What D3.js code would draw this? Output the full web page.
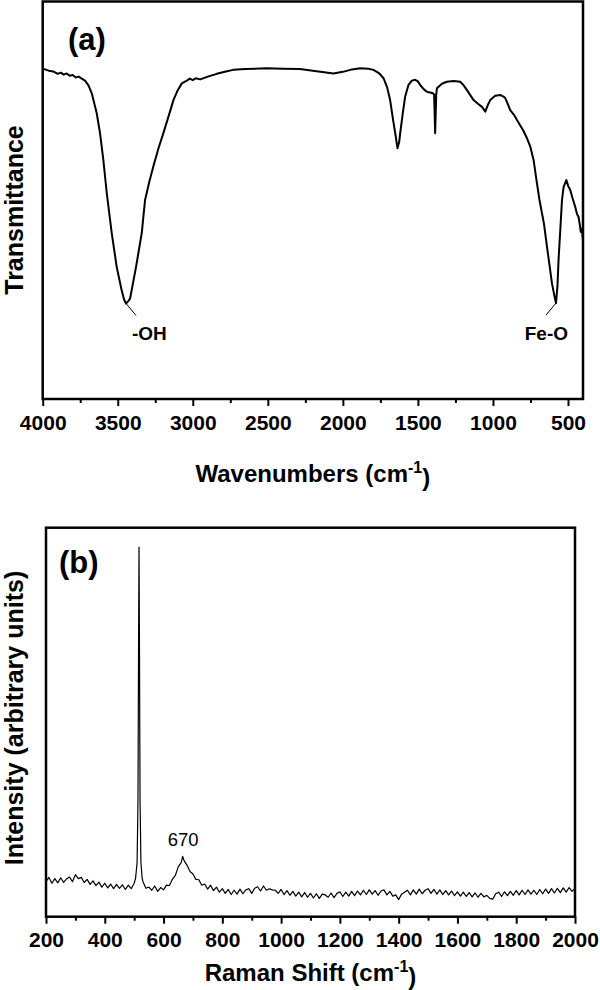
<!DOCTYPE html>
<html>
<head>
<meta charset="utf-8">
<script src="https://cdn.jsdelivr.net/npm/d3@7"></script>
<style>
  body { margin: 0; background: #fff; }
  svg text { font-family: "Liberation Sans", Arial, Helvetica, sans-serif; fill: #000; }
  .frame { fill: none; stroke: #000; stroke-width: 2.5; }
  .spec { fill: none; stroke: #000; stroke-linejoin: round; }
</style>
</head>
<body>
<svg id="chart" width="600" height="990"></svg>
<script>
// FTIR spectrum, panel (a)
var ftirWavenumber = [
  4000, 3960, 3930, 3900, 3880, 3860, 3840, 3820, 3800, 3780,
  3760, 3740, 3718, 3695, 3673, 3640, 3618, 3596, 3573, 3540,
  3507, 3475, 3458, 3445, 3430, 3418, 3378, 3340, 3318, 3290,
  3263, 3230, 3196, 3160, 3129, 3100, 3073, 3040, 3020, 3000,
  2980, 2950, 2900, 2840, 2780, 2731, 2650, 2507, 2400, 2285,
  2200, 2100, 2063, 2000, 1950, 1885, 1830, 1796, 1760, 1729,
  1705, 1685, 1665, 1651, 1636, 1625, 1618, 1600, 1585, 1563,
  1540, 1518, 1500, 1485, 1460, 1440, 1420, 1400, 1392, 1385,
  1378, 1373, 1340, 1307, 1262, 1218, 1195, 1173, 1150, 1129,
  1100, 1073, 1051, 1035, 1018, 985, 951, 930, 918, 900,
  885, 860, 840, 800, 773, 751, 729, 710, 690, 660,
  640, 607, 590, 580, 570, 563, 552, 540, 529, 511,
  498, 485, 470, 452, 440, 430, 420, 415, 408, 400
];
var ftirTransmittance = [
  83.0, 82.5, 82.3, 81.7, 82.0, 81.5, 81.8, 81.2, 81.4, 80.8,
  81.0, 80.5, 80.0, 78.8, 76.8, 71.8, 66.8, 60.1, 51.7, 41.7,
  33.2, 27.5, 25.0, 24.0, 24.6, 25.2, 33.2, 41.7, 50.0, 54.5,
  58.4, 62.8, 66.8, 71.2, 75.1, 77.6, 79.3, 80.0, 80.5, 80.1,
  80.6, 80.3, 81.0, 81.7, 82.3, 82.7, 82.9, 83.1, 83.0, 82.9,
  82.5, 82.0, 81.8, 82.2, 82.7, 83.1, 83.0, 82.7, 81.9, 80.6,
  78.3, 75.1, 70.0, 66.8, 63.0, 64.5, 66.8, 72.0, 76.0, 78.9,
  80.0, 80.2, 79.8, 78.9, 77.8, 77.2, 77.0, 76.8, 76.5, 66.8,
  76.5, 78.1, 79.2, 79.7, 79.9, 79.7, 78.8, 77.6, 76.3, 75.1,
  74.2, 73.4, 72.2, 73.8, 75.1, 76.2, 76.4, 76.0, 75.6, 74.0,
  72.6, 71.4, 70.1, 67.6, 65.5, 63.4, 60.0, 55.0, 50.0, 44.0,
  38.3, 29.1, 25.8, 24.1, 28.5, 34.9, 42.0, 50.0, 53.3, 55.0,
  53.5, 52.5, 50.5, 48.3, 46.5, 45.8, 43.5, 42.0, 42.8, 40.0
];
var ftirMajorTicks = [4000, 3500, 3000, 2500, 2000, 1500, 1000, 500];
var ftirMinorTicks = [3750, 3250, 2750, 2250, 1750, 1250, 750];
var ftirPeaks = [{label: "-OH", wn: 3445, t: 24.0, side: 1}, {label: "Fe-O", wn: 580, t: 24.1, side: -1}];

// Raman spectrum, panel (b)
var ramanShift = [
  200, 210, 220, 230, 240, 250, 260, 270, 280, 290,
  300, 310, 320, 330, 340, 350, 360, 370, 380, 390,
  400, 410, 420, 430, 440, 450, 460, 470, 480, 490,
  500, 505, 510, 513, 515, 516.5, 518, 520, 523, 527,
  530, 540, 550, 560, 570, 580, 590, 600, 610, 620,
  630, 640, 650, 660, 665, 670, 680, 690, 700, 710,
  720, 730, 740, 750, 760, 770, 780, 790, 800, 810,
  820, 830, 840, 850, 860, 870, 880, 890, 900, 910,
  920, 930, 940, 950, 960, 970, 980, 990, 1000, 1010,
  1020, 1030, 1040, 1050, 1060, 1070, 1080, 1090, 1100, 1110,
  1120, 1130, 1140, 1150, 1160, 1170, 1180, 1190, 1200, 1210,
  1220, 1230, 1240, 1250, 1260, 1270, 1280, 1290, 1300, 1310,
  1320, 1330, 1340, 1350, 1360, 1370, 1380, 1390, 1400, 1410,
  1420, 1430, 1440, 1450, 1460, 1470, 1480, 1490, 1500, 1510,
  1520, 1530, 1540, 1550, 1560, 1570, 1580, 1590, 1600, 1610,
  1620, 1630, 1640, 1650, 1660, 1670, 1680, 1690, 1700, 1710,
  1720, 1730, 1740, 1750, 1760, 1770, 1780, 1790, 1800, 1810,
  1820, 1830, 1840, 1850, 1860, 1870, 1880, 1890, 1900, 1910,
  1920, 1930, 1940, 1950, 1960, 1970, 1980, 1990, 2000
];
var ramanIntensity = [
  9.0, 10.1, 8.6, 9.8, 8.7, 10.0, 8.8, 9.7, 10.2, 9.0,
  10.8, 9.8, 10.1, 8.8, 9.6, 8.3, 9.2, 8.0, 8.9, 7.6,
  8.6, 7.4, 8.4, 7.2, 8.3, 7.3, 8.2, 7.0, 8.1, 7.2,
  8.6, 10.0, 14.0, 30.0, 70.0, 95.0, 70.0, 30.0, 14.0, 10.0,
  9.0, 7.3, 7.6, 6.8, 7.9, 6.5, 7.5, 6.9, 8.1, 8.0,
  9.6, 10.6, 12.8, 13.9, 15.5, 14.4, 13.2, 11.6, 11.0, 9.6,
  9.5, 8.1, 8.4, 7.1, 8.1, 6.7, 7.6, 6.3, 7.2, 6.0,
  7.0, 5.7, 6.8, 5.8, 7.1, 5.9, 6.9, 7.2, 6.0, 7.3,
  7.7, 6.6, 7.9, 6.8, 7.2, 6.9, 6.8, 6.0, 7.0, 5.7,
  6.7, 5.5, 6.5, 5.3, 6.3, 5.1, 6.2, 5.0, 6.0, 4.8,
  5.9, 4.7, 5.8, 5.6, 5.0, 6.1, 4.9, 6.0, 6.4, 5.2,
  6.3, 5.3, 6.5, 5.4, 6.6, 5.6, 6.8, 5.7, 6.9, 5.8,
  6.7, 5.5, 6.6, 6.9, 5.6, 6.5, 5.3, 5.6, 4.4, 5.8,
  6.3, 6.8, 5.6, 6.9, 5.8, 7.1, 5.9, 6.8, 7.2, 6.0,
  7.0, 5.8, 6.9, 5.7, 6.7, 5.6, 6.6, 5.4, 6.4, 5.3,
  6.3, 5.2, 6.2, 5.1, 6.1, 5.0, 6.0, 5.1, 5.5, 4.7,
  4.5, 5.9, 6.3, 5.2, 6.4, 5.4, 6.5, 5.5, 6.7, 5.6,
  6.8, 5.7, 6.9, 5.8, 6.8, 5.7, 7.0, 5.9, 7.1, 6.0,
  7.2, 6.1, 7.3, 6.2, 7.4, 6.3, 7.5, 6.5, 7.3
];
var ramanMajorTicks = [200, 400, 600, 800, 1000, 1200, 1400, 1600, 1800, 2000];
var ramanMinorTicks = [300, 500, 700, 900, 1100, 1300, 1500, 1700, 1900];
var ramanPeakLabel = {label: "670", shift: 667, value: 15.3};

var svg = d3.select("#chart");

// panel boxes (pixel frames)
var boxA = {left: 42.7, right: 583, top: 1.5, bottom: 399},
    boxB = {left: 46, right: 575, top: 527.7, bottom: 916.7};

var xA = d3.scaleLinear().domain([4000, 400]).range([boxA.left, boxA.right]),
    yA = d3.scaleLinear().domain([0, 100]).range([boxA.bottom, 1]);
var xB = d3.scaleLinear().domain([200, 2000]).range([boxB.left, boxB.right]),
    yB = d3.scaleLinear().domain([0, 100]).range([boxB.bottom, boxB.top]);

function drawAxes(box, x, major, minor, pad) {
    var gMinor = svg.append("g")
        .attr("transform", "translate(0," + box.bottom + ")")
        .call(d3.axisBottom(x).tickValues(minor).tickSize(4).tickSizeOuter(0).tickFormat(""));
    gMinor.select(".domain").remove();
    gMinor.selectAll("line").attr("stroke-width", 2);

    var gMajor = svg.append("g")
        .attr("transform", "translate(0," + box.bottom + ")")
        .call(d3.axisBottom(x).tickValues(major).tickSize(7).tickSizeOuter(0).tickPadding(pad).tickFormat(d3.format("d")));
    gMajor.select(".domain").remove();
    gMajor.selectAll("line").attr("stroke-width", 2);
    gMajor.selectAll("text")
        .attr("font-family", null)
        .style("font-size", "21px")
        .style("font-weight", "bold");

    svg.append("rect")
        .attr("class", "frame")
        .attr("x", box.left)
        .attr("y", box.top)
        .attr("width", box.right - box.left)
        .attr("height", box.bottom - box.top);
}

function xTitle(text, cx, y) {
    var t = svg.append("text")
        .attr("x", cx)
        .attr("y", y)
        .attr("text-anchor", "middle")
        .style("font-size", "24px")
        .style("font-weight", "bold");
    t.append("tspan").text(text + " (cm");
    t.append("tspan").attr("dy", "-0.55em").style("font-size", "16px").text("-1");
    t.append("tspan").attr("dy", "0.55em").text(")");
}

function yTitle(text, cx, cy) {
    svg.append("text")
        .attr("transform", "translate(" + cx + "," + cy + ") rotate(-90)")
        .attr("text-anchor", "middle")
        .style("font-size", "25px")
        .style("font-weight", "bold")
        .text(text);
}

// ---- panel (a)
var lineA = d3.line()
    .x(function(d, i) { return xA(ftirWavenumber[i]); })
    .y(function(d) { return yA(d); });

svg.append("path")
    .attr("class", "spec")
    .attr("stroke-width", 2)
    .attr("d", lineA(ftirTransmittance));

ftirPeaks.forEach(function(p) {
    var px = xA(p.wn), py = yA(p.t);
    svg.append("line")
        .attr("x1", px).attr("y1", py)
        .attr("x2", px + p.side * 10).attr("y2", py + 12)
        .attr("stroke", "#000").attr("stroke-width", 1);
    svg.append("text")
        .attr("x", p.side > 0 ? px + 6 : px + 12)
        .attr("y", py + 37)
        .attr("text-anchor", p.side > 0 ? "start" : "end")
        .style("font-size", "19px")
        .style("font-weight", "bold")
        .text(p.label);
});

drawAxes(boxA, xA, ftirMajorTicks, ftirMinorTicks, 9);

svg.append("text")
    .attr("x", 68).attr("y", 50)
    .style("font-size", "31px").style("font-weight", "bold")
    .text("(a)");

xTitle("Wavenumbers", (boxA.left + boxA.right) / 2, 482);
yTitle("Transmittance", 22.5, 210);

// ---- panel (b)
var lineB = d3.line()
    .x(function(d, i) { return xB(ramanShift[i]); })
    .y(function(d) { return yB(d); });

svg.append("path")
    .attr("class", "spec")
    .attr("stroke-width", 1.2)
    .attr("d", lineB(ramanIntensity));

svg.append("text")
    .attr("x", xB(ramanPeakLabel.shift))
    .attr("y", yB(ramanPeakLabel.value) - 11)
    .attr("text-anchor", "middle")
    .style("font-size", "18.5px")
    .text(ramanPeakLabel.label);

drawAxes(boxB, xB, ramanMajorTicks, ramanMinorTicks, 8);

svg.append("text")
    .attr("x", 59).attr("y", 573)
    .style("font-size", "31px").style("font-weight", "bold")
    .text("(b)");

xTitle("Raman Shift", (boxB.left + boxB.right) / 2, 981);
yTitle("Intensity (arbitrary units)", 22.5, 718);
</script>
</body>
</html>
